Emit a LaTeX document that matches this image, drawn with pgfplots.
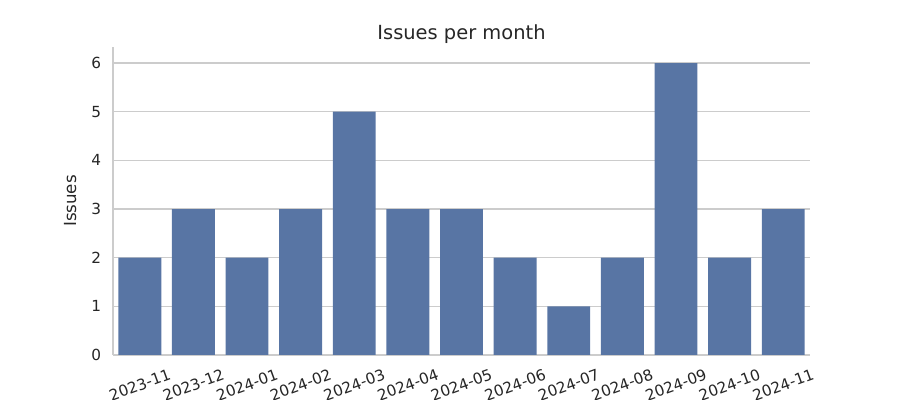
\documentclass[border=0pt]{standalone}
\usepackage{pgfplots}
\pgfplotsset{compat=1.18}
\usepackage{fontspec}
\setmainfont{DejaVu Sans}
\definecolor{barblue}{HTML}{5875A4}
\definecolor{gridgray}{HTML}{CCCCCC}
\definecolor{txt}{HTML}{262626}
\begin{document}
\begin{tikzpicture}[x=1pt,y=1pt]
\path[use as bounding box] (0,0) rectangle (648,288);
\begin{axis}[
  at={(81.36pt,32.4pt)}, anchor=south west,
  scale only axis, width=501.84pt, height=221.76pt,
  xmin=-0.5, xmax=12.5, ymin=0, ymax=6.33,
  xtick={0,...,12},
  xticklabels={2023-11,2023-12,2024-01,2024-02,2024-03,2024-04,2024-05,2024-06,2024-07,2024-08,2024-09,2024-10,2024-11},
  ytick={0,1,2,3,4,5,6},
  /pgf/number format/assume math mode=true,
  major tick length=0pt,
  tick style={draw=none},
  axis x line*=bottom, axis y line*=left,
  axis line style={gridgray, line width=0.9pt, -},
  ymajorgrids, grid style={gridgray, line width=0.8pt},
  ticklabel style={font=\fontsize{11}{13}\selectfont, text=txt},
  xticklabel style={rotate=20, anchor=center, xshift=-7.4pt, yshift=-20.3pt},
  yticklabel style={xshift=-5pt},
  ylabel={Issues}, ylabel style={font=\fontsize{12}{14}\selectfont, text=txt, yshift=4pt},
  title={Issues per month}, title style={font=\fontsize{14}{16}\selectfont, text=txt, yshift=-7pt},
  ybar, bar width=0.8, bar shift=0pt,
  clip=false,
]
\addplot[fill=barblue, draw=none] coordinates {
(0,2) (1,3) (2,2) (3,3) (4,5) (5,3) (6,3) (7,2) (8,1) (9,2) (10,6) (11,2) (12,3)
};
\end{axis}
\end{tikzpicture}
\end{document}
